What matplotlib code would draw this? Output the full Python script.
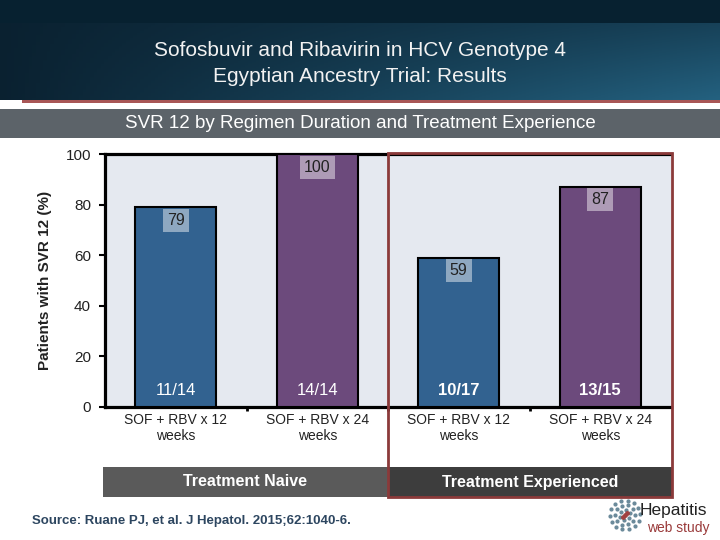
import numpy as np
import matplotlib
matplotlib.use("Agg")
import matplotlib.pyplot as plt
from matplotlib.patches import Rectangle

plt.rcParams['font.family'] = ['Liberation Sans', 'DejaVu Sans']

# ---- data ----
categories = ["SOF + RBV x 12\nweeks", "SOF + RBV x 24\nweeks",
              "SOF + RBV x 12\nweeks", "SOF + RBV x 24\nweeks"]
svr_values = [79, 100, 59, 87]
patient_counts = ["11/14", "14/14", "10/17", "13/15"]
count_bold = [False, False, True, True]
bar_colors = ["#326290", "#6c4a7c", "#326290", "#6c4a7c"]
yticks = [0, 20, 40, 60, 80, 100]
group_labels = ["Treatment Naive", "Treatment Experienced"]

W, H = 720, 540
fig = plt.figure(figsize=(7.2, 5.4), dpi=100)
fig.patch.set_facecolor("white")

def px_axes(x0, y0, x1, y1, **kw):
    return fig.add_axes([x0 / W, 1 - y1 / H, (x1 - x0) / W, (y1 - y0) / H], **kw)

def fig_rect(x0, y0, x1, y1, **kw):
    r = Rectangle((x0 / W, 1 - y1 / H), (x1 - x0) / W, (y1 - y0) / H,
                  transform=fig.transFigure, **kw)
    fig.patches.append(r)
    return r

# ---- header gradient ----
hax = px_axes(0, 0, 720, 100)
hax.set_axis_off()
nx, ny = 200, 100
gx = np.linspace(0, 1, nx)[None, :]
gy = np.linspace(0, 1, ny)[:, None]
c_left = np.array([0.04, 0.13, 0.19])
c_right = np.array([0.14, 0.38, 0.50])
t = (0.35 * gx + 0.65 * gx * gy) * np.ones_like(gy)
img = c_left[None, None, :] * (1 - t[..., None]) + c_right[None, None, :] * t[..., None]
top_rows = int(ny * 0.23)
img[:top_rows] = np.array([0.03, 0.13, 0.19])
hax.imshow(img, aspect="auto", extent=[0, 1, 0, 1], origin="upper")
hax.set_xlim(0, 1); hax.set_ylim(0, 1)

fig.text(360 / W, 1 - 50 / H, "Sofosbuvir and Ribavirin in HCV Genotype 4",
         ha="center", va="center", color="#f2f2f2", fontsize=15)
fig.text(360 / W, 1 - 77 / H, "Egyptian Ancestry Trial: Results",
         ha="center", va="center", color="#f2f2f2", fontsize=15)

# red line under header
fig_rect(22, 100, 720, 103, facecolor="#a85656", edgecolor="none")

# subtitle band
fig_rect(0, 109, 720, 138, facecolor="#5c6369", edgecolor="none")
fig.text(360 / W, 1 - 123 / H, "SVR 12 by Regimen Duration and Treatment Experience",
         ha="center", va="center", color="white", fontsize=13.5)

# ---- main axes ----
ax = px_axes(105, 154, 671, 407)
ax.set_facecolor("#e5e9f0")
x = np.arange(len(svr_values))
ax.bar(x, svr_values, width=0.575, color=bar_colors, edgecolor="black",
       linewidth=1.5, zorder=3)
ax.set_xlim(-0.5, len(svr_values) - 0.5)
ax.set_ylim(0, 100)
ax.set_yticks(yticks)
ax.set_yticklabels([str(v) for v in yticks], fontsize=11, color="#222222")
ax.tick_params(axis="y", direction="out", length=4, width=1.5, pad=6)
ax.set_xticks(np.arange(0.5, len(svr_values) - 0.5, 1.0))
ax.set_xticklabels([])
ax.tick_params(axis="x", direction="out", length=3, width=2)
for s in ["left", "top", "bottom"]:
    ax.spines[s].set_linewidth(2.3)
    ax.spines[s].set_color("black")
ax.spines["right"].set_visible(False)
ax.set_ylabel("Patients with SVR 12 (%)", fontsize=11, fontweight="bold",
              color="#222222", labelpad=10)

for xi, v, cnt, b in zip(x, svr_values, patient_counts, count_bold):
    ax.annotate(str(v), (xi, v), xytext=(0, -4), textcoords="offset points",
                ha="center", va="top", fontsize=11.5, color="#222222", zorder=5,
                bbox=dict(boxstyle="square,pad=0.25", fc="white", ec="none", alpha=0.45))
    ax.text(xi, 3.5, cnt, ha="center", va="bottom", fontsize=12, color="white",
            fontweight="bold" if b else "normal", zorder=5)
    ax.text(xi, -2.5, categories[xi], ha="center", va="top", fontsize=10,
            color="#222222", linespacing=1.15)

# ---- group bands ----
fig_rect(103, 467, 388, 497, facecolor="#5a5a5a", edgecolor="none")
fig_rect(388, 467, 672, 497, facecolor="#3d3d3d", edgecolor="none")
fig.text(245 / W, 1 - 482 / H, group_labels[0], ha="center", va="center",
         color="white", fontsize=11.5, fontweight="bold")
fig.text(530 / W, 1 - 482 / H, group_labels[1], ha="center", va="center",
         color="white", fontsize=11.5, fontweight="bold")

# red box around Treatment Experienced
fig_rect(388, 153, 672, 497, facecolor="none", edgecolor="#8b3a3a", linewidth=2,
         zorder=10)

# ---- source ----
fig.text(32 / W, 1 - 521 / H, "Source: Ruane PJ, et al. J Hepatol. 2015;62:1040-6.",
         ha="left", va="center", color="#2d4660", fontsize=9.5, fontweight="bold")

# ---- logo ----
lax = px_axes(608, 498, 642, 532)
lax.set_axis_off()
lax.set_xlim(-1.1, 1.1); lax.set_ylim(-1.1, 1.1)
for r, n in [(0.95, 14), (0.65, 10), (0.35, 6)]:
    ang = np.linspace(0, 2 * np.pi, n, endpoint=False) + r
    lax.scatter(r * np.cos(ang), r * np.sin(ang), s=4, color="#6a8a9a")
lax.scatter([0, 0.15, -0.15], [0, 0.12, -0.1], s=6, color="#a04040")
fig.text(640 / W, 1 - 511 / H, "Hepatitis", ha="left", va="center",
         color="#222222", fontsize=12.5)
fig.text(710 / W, 1 - 528 / H, "web study", ha="right", va="center",
         color="#9a3a3a", fontsize=10)

fig.savefig("out.png", dpi=100)
